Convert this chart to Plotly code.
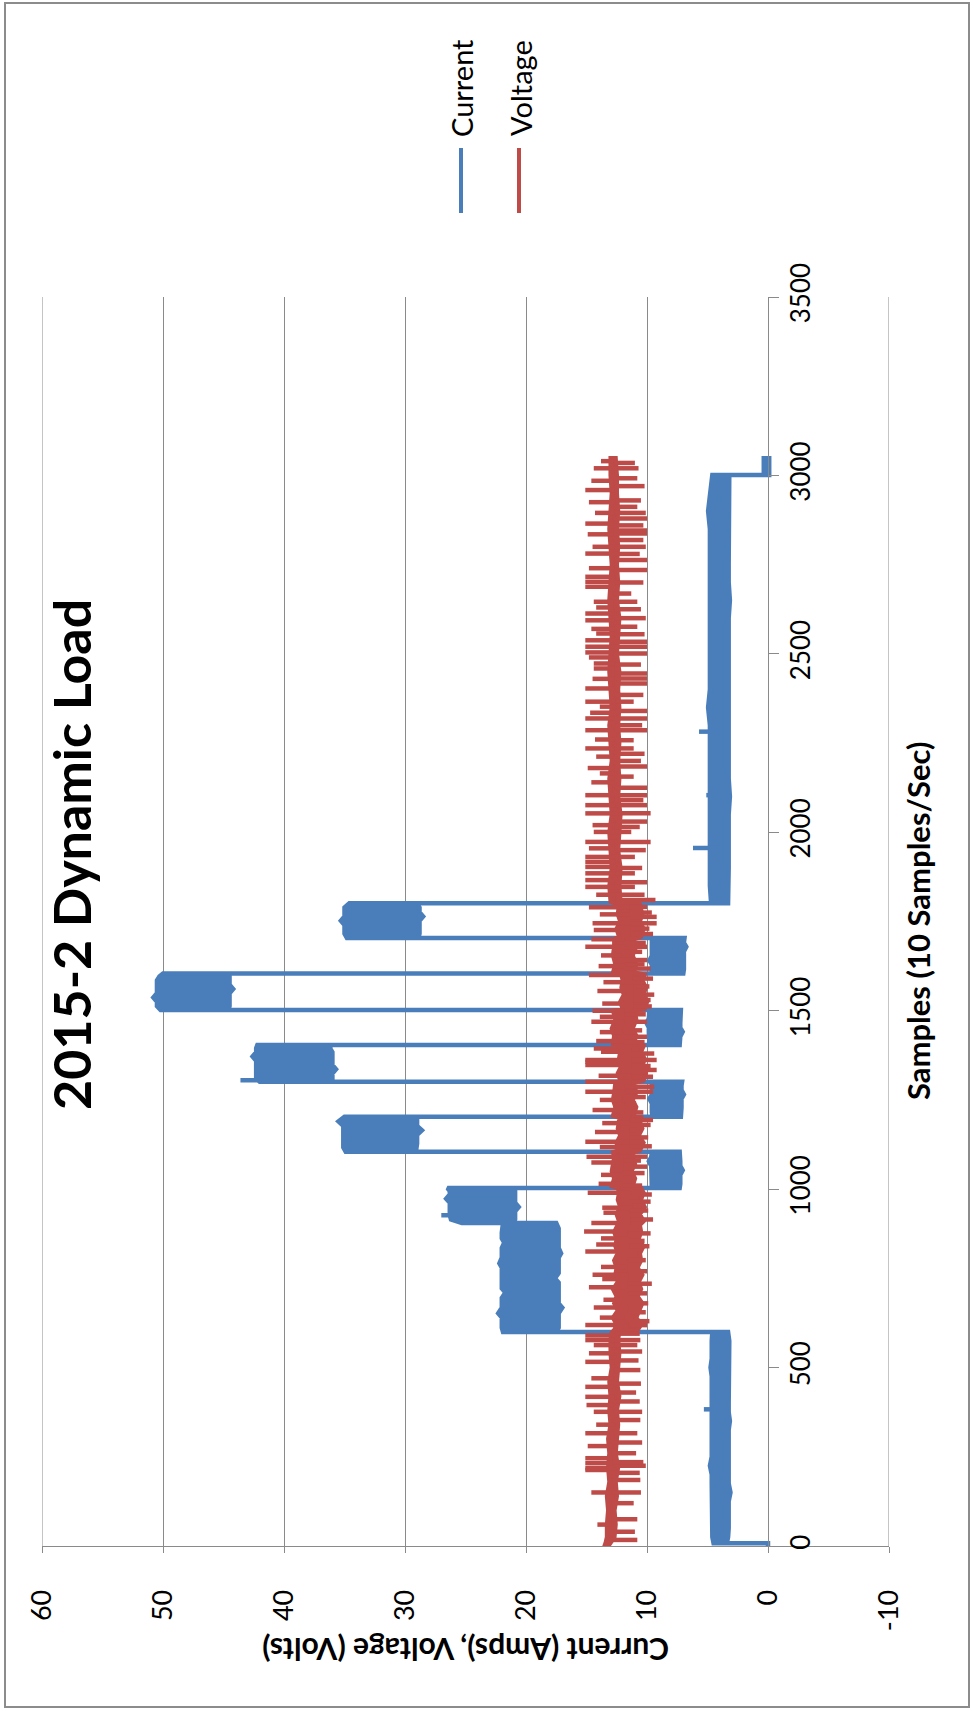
import numpy as np
import plotly.graph_objects as go

# ---------------- data ----------------
# Current (Amps): min / max envelope of the logged signal at sample positions
cur_s = [0, 8,
         8, 25, 50, 75, 100, 125, 150, 175, 200, 225, 250, 275, 300, 325, 350, 375, 400, 425,
         450, 475, 500, 525, 550, 575, 600,
         600, 612, 625, 640, 652, 668, 680, 695, 710, 722, 738, 750, 765, 780, 792, 808, 820,
         835, 850, 862, 878, 890, 905,
         905, 915, 927, 938, 950, 962, 973, 985, 995, 1003,
         1003, 1015, 1028, 1040, 1053, 1065, 1078, 1090, 1105,
         1105, 1117, 1128, 1140, 1152, 1165, 1177, 1190, 1203,
         1203, 1215, 1228, 1240, 1253, 1265, 1278, 1290, 1301,
         1301, 1312, 1324, 1336, 1348, 1360, 1372, 1384, 1395, 1404,
         1404, 1416, 1428, 1441, 1453, 1466, 1478, 1490, 1502,
         1502, 1513, 1525, 1537, 1549, 1561, 1573, 1585, 1596, 1604,
         1604, 1616, 1629, 1641, 1654, 1666, 1679, 1691, 1704,
         1704, 1716, 1728, 1740, 1752, 1764, 1776, 1789, 1801,
         1801, 1850, 1900, 1950, 2000, 2050, 2100, 2150, 2200, 2250, 2300, 2350, 2400, 2450,
         2500, 2550, 2600, 2650, 2700, 2750, 2800, 2850, 2900, 2950, 3001,
         3001, 3048]
cur_lo = [0, 0,
          3.4, 3.3, 3.25, 3.25, 3.25, 3.25, 3.1, 3.25, 3.25, 3.25, 3.25, 3.25, 3.25, 3.25, 3.15,
          3.25, 3.25, 3.25, 3.25, 3.25, 3.25, 3.25, 3.25, 3.2, 3.3,
          17.5, 17.3, 17.3, 17.3, 17.3, 17.0, 17.3, 17.3, 17.3, 17.3, 17.3, 17.6, 17.3, 17.3,
          17.3, 17.3, 17.1, 17.3, 17.3, 17.3, 17.3, 17.3, 17.5,
          21.0, 20.9, 20.9, 20.9, 20.6, 20.9, 20.9, 20.9, 20.9, 21.0,
          7.3, 7.25, 7.25, 7.25, 7.05, 7.25, 7.25, 7.25, 7.3,
          29.1, 29.0, 29.0, 29.0, 29.0, 28.6, 29.0, 29.0, 29.0,
          7.2, 7.15, 7.15, 7.15, 7.15, 6.95, 7.15, 7.15, 7.1,
          36.0, 36.0, 36.0, 35.7, 36.0, 36.0, 36.0, 36.0, 36.2, 36.1,
          7.3, 7.25, 7.25, 7.05, 7.25, 7.25, 7.25, 7.25, 7.2,
          44.6, 44.5, 44.5, 44.5, 44.5, 44.2, 44.5, 44.5, 44.5, 44.6,
          7.0, 6.95, 6.95, 6.95, 6.95, 6.95, 6.75, 6.95, 6.9,
          28.9, 28.8, 28.8, 28.8, 28.8, 28.5, 28.8, 28.8, 29.1,
          3.3, 3.25, 3.25, 3.25, 3.25, 3.25, 3.15, 3.25, 3.25, 3.25, 3.25, 3.25, 3.25, 3.25,
          3.25, 3.25, 3.25, 3.15, 3.25, 3.25, 3.25, 3.25, 3.25, 3.25, 3.2,
          -0.1, -0.1]
cur_hi = [0, 0,
          4.5, 4.6, 4.65, 4.65, 4.65, 4.65, 4.65, 4.65, 4.65, 4.8, 4.65, 4.65, 4.65, 4.65, 4.65,
          4.65, 4.65, 4.65, 4.65, 4.65, 4.75, 4.65, 4.65, 4.65, 4.6,
          21.9, 22.0, 22.0, 22.0, 22.3, 22.0, 22.0, 22.0, 21.7, 22.0, 22.0, 22.0, 22.0, 22.0,
          22.2, 22.0, 22.0, 22.0, 21.8, 22.0, 22.0, 22.0, 21.9,
          25.3, 26.2, 26.3, 26.3, 26.3, 26.3, 26.6, 26.3, 26.3, 26.5,
          9.6, 9.65, 9.65, 9.65, 9.65, 9.65, 9.85, 9.65, 9.6,
          34.9, 35.1, 35.1, 35.1, 35.1, 35.1, 35.1, 35.5, 35.0,
          9.5, 9.6, 9.6, 9.6, 9.8, 9.6, 9.6, 9.6, 9.6,
          42.0, 42.3, 42.3, 42.3, 42.3, 42.3, 42.6, 42.3, 42.3, 42.2,
          9.8, 9.85, 9.85, 9.85, 9.85, 10.05, 9.85, 9.85, 9.8,
          50.2, 50.5, 50.5, 50.8, 50.5, 50.5, 50.5, 50.5, 50.3, 50.0,
          9.6, 9.6, 9.6, 9.8, 9.6, 9.6, 9.6, 9.6, 9.6,
          34.8, 35.0, 35.0, 35.0, 35.3, 35.0, 35.0, 35.0, 34.6,
          4.7, 4.8, 4.8, 4.8, 4.8, 4.8, 4.8, 4.8, 4.8, 4.8, 4.8, 4.95, 4.8, 4.8,
          4.8, 4.8, 4.8, 4.8, 4.8, 4.8, 4.8, 4.8, 4.95, 4.8, 4.6,
          0.35, 0.35]
# isolated current excursions (sample, Amps)
cur_spike_s = [383, 927, 1305, 1956, 2104, 2282]
cur_spike_v = [5.3, 27.0, 43.6, 6.2, 5.1, 5.7]

# Voltage (Volts): core band of the logged signal
volt_s = [0, 10, 25, 60, 100, 140, 180, 220, 260, 300, 340, 380, 420, 460, 500, 540, 580, 598,
          605, 620, 640, 660, 680, 700, 720, 740, 760, 780, 800, 820, 840, 860, 880, 900,
          910, 930, 950, 970, 990, 1003,
          1008, 1030, 1050, 1070, 1090, 1103,
          1108, 1130, 1150, 1170, 1190, 1201,
          1206, 1230, 1250, 1270, 1298,
          1304, 1325, 1345, 1365, 1385, 1401,
          1407, 1430, 1450, 1475, 1500,
          1505, 1525, 1545, 1565, 1585, 1601,
          1607, 1630, 1655, 1680, 1701,
          1707, 1730, 1750, 1770, 1798,
          1806, 1850, 1900, 1950, 2000, 2050, 2100, 2150, 2200, 2250, 2300, 2350, 2400, 2450,
          2500, 2550, 2600, 2650, 2700, 2750, 2800, 2850, 2900, 2950, 3000, 3048]
volt_lo = [13.2, 13.0, 12.7, 12.6, 12.7, 12.5, 12.6, 12.4, 12.6, 12.5, 12.4, 12.5, 12.3, 12.5,
           12.4, 12.3, 12.4, 12.3,
           10.8, 10.5, 10.9, 10.6, 10.4, 10.8, 10.5, 10.7, 10.4, 10.8, 10.5, 10.6, 10.3, 10.7,
           10.5, 10.6,
           10.3, 10.6, 10.2, 10.5, 10.3, 10.5,
           11.2, 11.0, 11.3, 11.0, 11.2, 11.1,
           10.6, 10.3, 10.7, 10.4, 10.6, 10.5,
           11.1, 10.9, 11.2, 10.9, 11.1,
           10.3, 10.1, 10.4, 10.2, 10.5, 10.3,
           11.1, 10.9, 11.2, 10.9, 11.0,
           10.2, 10.0, 10.3, 10.1, 10.4, 10.2,
           11.1, 10.9, 11.2, 10.9, 11.0,
           10.5, 10.3, 10.6, 10.4, 10.6,
           12.2, 12.3, 12.2, 12.4, 12.3, 12.2, 12.4, 12.3, 12.4, 12.3, 12.4, 12.3, 12.4, 12.3,
           12.5, 12.4, 12.3, 12.5, 12.4, 12.5, 12.4, 12.5, 12.4, 12.5, 12.5, 12.6]
volt_hi = [13.5, 13.4, 13.3, 13.3, 13.2, 13.3, 13.1, 13.2, 13.1, 13.2, 13.0, 13.1, 13.0, 13.1,
           12.9, 13.0, 13.0, 12.9,
           12.7, 12.5, 12.8, 12.4, 12.7, 12.5, 12.8, 12.4, 12.6, 12.5, 12.7, 12.4, 12.6, 12.5,
           12.7, 12.4,
           12.3, 12.5, 12.2, 12.4, 12.3, 12.4,
           12.9, 12.7, 12.9, 12.8, 12.7, 12.8,
           12.4, 12.5, 12.2, 12.4, 12.3, 12.3,
           12.8, 12.6, 12.8, 12.7, 12.6,
           12.2, 12.4, 12.1, 12.3, 12.2, 12.2,
           12.8, 12.7, 12.9, 12.6, 12.8,
           12.0, 12.2, 11.9, 12.1, 12.0, 12.1,
           12.8, 12.6, 12.8, 12.7, 12.7,
           12.3, 12.5, 12.2, 12.4, 12.3,
           13.0, 13.1, 12.9, 13.0, 13.1, 12.9, 13.0, 13.1, 12.9, 13.0, 13.1, 12.9, 13.0, 13.1,
           13.0, 12.9, 13.0, 13.1, 13.0, 12.9, 13.0, 13.1, 13.0, 12.9, 13.0, 13.0]
# isolated voltage excursions above the core (sample, Volts)
volt_up_s = [60, 150, 213, 218, 232, 246, 280, 316, 340, 376, 395, 418, 446, 470, 516, 540,
             563, 577, 590, 619, 640, 668, 690, 725, 748, 760, 782, 825, 845, 862, 881, 905,
             934, 948, 990, 1015, 1040, 1075, 1091, 1118, 1133, 1160, 1185, 1222, 1250, 1273,
             1301, 1318, 1348, 1357, 1362, 1385, 1394, 1415, 1440, 1469, 1483, 1500, 1520,
             1555, 1580, 1600, 1625, 1655, 1679, 1700, 1726, 1745, 1770, 1790, 1825, 1847,
             1866, 1885, 1903, 1917, 1931, 1955, 1973, 2001, 2020, 2053, 2076, 2104, 2140,
             2165, 2180, 2212, 2235, 2260, 2286, 2319, 2335, 2352, 2366, 2403, 2430, 2459,
             2473, 2490, 2504, 2520, 2538, 2557, 2570, 2594, 2613, 2630, 2646, 2688, 2702,
             2716, 2740, 2781, 2800, 2835, 2865, 2895, 2925, 2959, 2985, 3020, 3040]
volt_up_v = [14.1, 14.6, 15.1, 15.1, 15.1, 15.1, 14.9, 15.1, 14.2, 14.4, 15.0, 15.1, 15.1, 14.6,
             15.1, 14.8, 14.4, 15.1, 15.1, 15.1, 13.9, 14.4, 13.6, 14.8, 13.7, 14.5, 13.8, 15.1,
             14.2, 13.8, 15.2, 14.6, 13.6, 13.7, 14.9, 14.0, 13.8, 14.6, 15.0, 13.9, 15.1,
             14.3, 13.7, 14.5, 13.9, 15.1, 15.1, 14.0, 15.1, 15.1, 15.1, 13.8, 14.4, 14.2,
             13.9, 14.6, 13.9, 14.5, 13.7, 14.1, 13.6, 14.8, 14.0, 13.8, 15.1, 14.6, 14.4,
             14.5, 13.9, 14.8, 14.2, 15.1, 15.1, 15.1, 15.1, 15.1, 15.1, 14.8, 15.1, 14.4,
             14.5, 15.1, 15.1, 15.1, 14.6, 13.9, 14.9, 14.2, 15.1, 14.3, 15.1, 15.1, 14.7,
             13.9, 15.1, 15.1, 14.5, 14.4, 14.4, 14.8, 15.1, 15.1, 15.1, 14.2, 14.6, 15.1,
             15.1, 14.2, 14.4, 15.1, 15.1, 15.1, 14.8, 15.1, 14.5, 14.9, 15.1, 14.3, 14.8,
             15.1, 14.6, 14.4, 13.8]
# isolated voltage excursions below the core (sample, Volts)
volt_dn_s = [17, 40, 75, 120, 150, 185, 205, 225, 235, 260, 290, 316, 353, 376, 405, 430, 455,
             493, 520, 545, 563, 577, 595, 619, 630, 655, 680, 708, 735, 770, 801, 840, 855,
             876, 915, 940, 965, 985, 1010, 1045, 1063, 1080, 1091, 1120, 1145, 1166, 1180,
             1194, 1215, 1240, 1258, 1273, 1287, 1315, 1334, 1345, 1362, 1380, 1412, 1427,
             1445, 1469, 1490, 1512, 1530, 1545, 1568, 1590, 1618, 1630, 1642, 1665, 1679,
             1690, 1715, 1730, 1745, 1763, 1775, 1791, 1810, 1825, 1847, 1860, 1885, 1900,
             1931, 1950, 1973, 2001, 2015, 2030, 2053, 2076, 2090, 2104, 2125, 2156, 2184,
             2200, 2220, 2235, 2258, 2286, 2300, 2319, 2340, 2366, 2385, 2417, 2431, 2445,
             2470, 2501, 2520, 2534, 2555, 2576, 2600, 2625, 2646, 2669, 2700, 2735, 2763,
             2780, 2800, 2819, 2837, 2846, 2860, 2879, 2895, 2912, 2930, 2970, 2992, 3020, 3035]
volt_dn_v = [10.8, 11.0, 10.8, 11.1, 10.5, 10.55, 10.6, 10.1, 10.3, 10.9, 10.4, 10.8, 10.55,
             10.4, 10.6, 10.9, 10.5, 10.55, 10.7, 10.4, 10.8, 10.55, 10.6, 10.0, 9.8, 10.1,
             9.9, 10.0, 9.6, 10.0, 10.1, 9.8, 10.2, 9.7, 9.5, 9.9, 9.7, 9.6, 10.4, 10.2, 10.0,
             10.5, 10.0, 9.6, 9.9, 10.9, 9.7, 9.5, 10.3, 10.9, 10.1, 9.5, 9.4, 9.5, 9.2, 9.7,
             9.2, 9.4, 10.2, 10.0, 10.4, 10.0, 10.1, 9.6, 9.7, 9.4, 9.8, 9.5, 9.7, 10.2, 10.0,
             10.4, 10.0, 10.1, 9.5, 9.8, 9.2, 9.2, 9.6, 10.0, 9.3, 10.2, 11.0, 10.0, 11.0,
             10.4, 11.0, 10.1, 9.7, 11.3, 10.6, 10.0, 9.7, 10.0, 10.3, 10.0, 10.0, 11.1, 10.0,
             10.5, 10.2, 11.1, 11.1, 10.0, 10.4, 10.0, 10.0, 11.1, 10.3, 10.0, 10.0, 10.0,
             10.5, 10.0, 10.0, 10.0, 10.2, 10.8, 10.1, 10.5, 10.8, 11.3, 10.3, 10.0, 10.0,
             10.6, 10.1, 10.3, 10.0, 10.0, 10.3, 10.0, 10.1, 10.8, 10.5, 10.2, 10.8, 10.7, 11.0]

value_ticks = [60, 50, 40, 30, 20, 10, 0, -10]
value_tick_text = ["60", "50", "40", "30", "20", "10", "0", "-10"]
sample_ticks = [0, 500, 1000, 1500, 2000, 2500, 3000, 3500]
sample_tick_text = ["0", "500", "1000", "1500", "2000", "2500", "3000", "3500"]

# ---------------- styling ----------------
BLUE = "#4a7ebb"
RED = "#be4b48"
GRID = "#8a8a8a"
FONT = "Lato"
LW = 4.5

# page geometry (px) -> paper fractions
W, H = 973, 1711
PL, PR, PT, PB = 42, 889, 297, 1546


def xp(px):
    return (px - PL) / (PR - PL)


def yp(py):
    return (PB - py) / (PB - PT)


def band_polygon(s, lo, hi):
    xs = list(lo) + list(hi)[::-1] + [lo[0]]
    ys = list(s) + list(s)[::-1] + [s[0]]
    return xs, ys


def spike_segments(spk_s, spk_v, base_s, base_v):
    xs, ys = [], []
    for s, v in zip(spk_s, spk_v):
        root = float(np.interp(s, base_s, base_v))
        xs += [root, v, None]
        ys += [s, s, None]
    return xs, ys


def mid(lo, hi):
    return [(a + b) / 2 for a, b in zip(lo, hi)]


fig = go.Figure()

cx, cy = band_polygon(cur_s, cur_lo, cur_hi)
fig.add_trace(go.Scatter(x=cx, y=cy, mode="lines", fill="toself", fillcolor=BLUE,
                         line=dict(color=BLUE, width=LW), name="Current",
                         showlegend=False, hoverinfo="skip"))
csx, csy = spike_segments(cur_spike_s, cur_spike_v, cur_s, mid(cur_lo, cur_hi))
fig.add_trace(go.Scatter(x=csx, y=csy, mode="lines", line=dict(color=BLUE, width=LW),
                         showlegend=False, hoverinfo="skip"))

vx, vy = band_polygon(volt_s, volt_lo, volt_hi)
fig.add_trace(go.Scatter(x=vx, y=vy, mode="lines", fill="toself", fillcolor=RED,
                         line=dict(color=RED, width=LW), name="Voltage",
                         showlegend=False, hoverinfo="skip"))
for sp_s, sp_v in ((volt_up_s, volt_up_v), (volt_dn_s, volt_dn_v)):
    vsx, vsy = spike_segments(sp_s, sp_v, volt_s, mid(volt_lo, volt_hi))
    fig.add_trace(go.Scatter(x=vsx, y=vsy, mode="lines", line=dict(color=RED, width=LW),
                             showlegend=False, hoverinfo="skip"))

fig.update_layout(
    width=W, height=H,
    margin=dict(l=PL, r=W - PR, t=PT, b=H - PB, pad=0),
    paper_bgcolor="white", plot_bgcolor="white",
    font=dict(family=FONT, color="#000000"),
    showlegend=False,
    xaxis=dict(
        range=[60, -10], tickmode="array", tickvals=value_ticks, ticktext=value_tick_text,
        tickangle=-90, tickfont=dict(size=27, family=FONT, color="#000000"),
        showgrid=True, gridcolor=GRID, gridwidth=1, zeroline=False,
        showline=True, linecolor=GRID, linewidth=1,
        ticks="outside", ticklen=6, tickcolor=GRID, tickwidth=1,
        ticklabelstandoff=26, fixedrange=True,
    ),
    yaxis=dict(
        range=[0, 3500], tickmode="array", tickvals=sample_ticks, ticktext=sample_tick_text,
        tickangle=-90, tickfont=dict(size=26, family=FONT, color="#000000"),
        showgrid=False, zeroline=False,
        anchor="free", position=6 / 7, side="right",
        showline=True, linecolor=GRID, linewidth=1,
        ticks="outside", ticklen=10, tickcolor=GRID, tickwidth=1,
        ticklabelstandoff=0, fixedrange=True,
    ),
)

# edge grid lines at 60 and -10
for v in (60, -10):
    fig.add_shape(type="line", xref="x", yref="paper", x0=v, x1=v, y0=0, y1=1,
                  line=dict(color=GRID, width=1))

# outer chart border
fig.add_shape(type="rect", xref="paper", yref="paper",
              x0=xp(5), x1=xp(969), y0=yp(1707), y1=yp(3),
              line=dict(color="#8c8c8c", width=2))

# title
fig.add_annotation(text="<b>2015-2 Dynamic Load</b>", xref="paper", yref="paper",
                   x=xp(71), y=yp(855), xanchor="center", yanchor="middle",
                   showarrow=False, textangle=-90,
                   font=dict(size=52, family=FONT, color="#000000"))
# axis titles
fig.add_annotation(text="<b>Current (Amps), Voltage (Volts)</b>", xref="paper", yref="paper",
                   x=xp(465.5), y=yp(1650), xanchor="center", yanchor="middle",
                   showarrow=False, textangle=180,
                   font=dict(size=30, family=FONT, color="#000000"))
fig.add_annotation(text="<b>Samples (10 Samples/Sec)</b>", xref="paper", yref="paper",
                   x=xp(918), y=yp(921), xanchor="center", yanchor="middle",
                   showarrow=False, textangle=-90,
                   font=dict(size=31, family=FONT, color="#000000"))

# legend
for label, color, lx, tx in (("Current", BLUE, 461, 462), ("Voltage", RED, 519, 521)):
    fig.add_shape(type="line", xref="paper", yref="paper",
                  x0=xp(lx), x1=xp(lx), y0=yp(213), y1=yp(148),
                  line=dict(color=color, width=4))
    fig.add_annotation(text=label, xref="paper", yref="paper", x=xp(tx), y=yp(88),
                       xanchor="center", yanchor="middle",
                       showarrow=False, textangle=-90,
                       font=dict(size=29, family=FONT, color="#000000"))

fig.write_html("out.html")
